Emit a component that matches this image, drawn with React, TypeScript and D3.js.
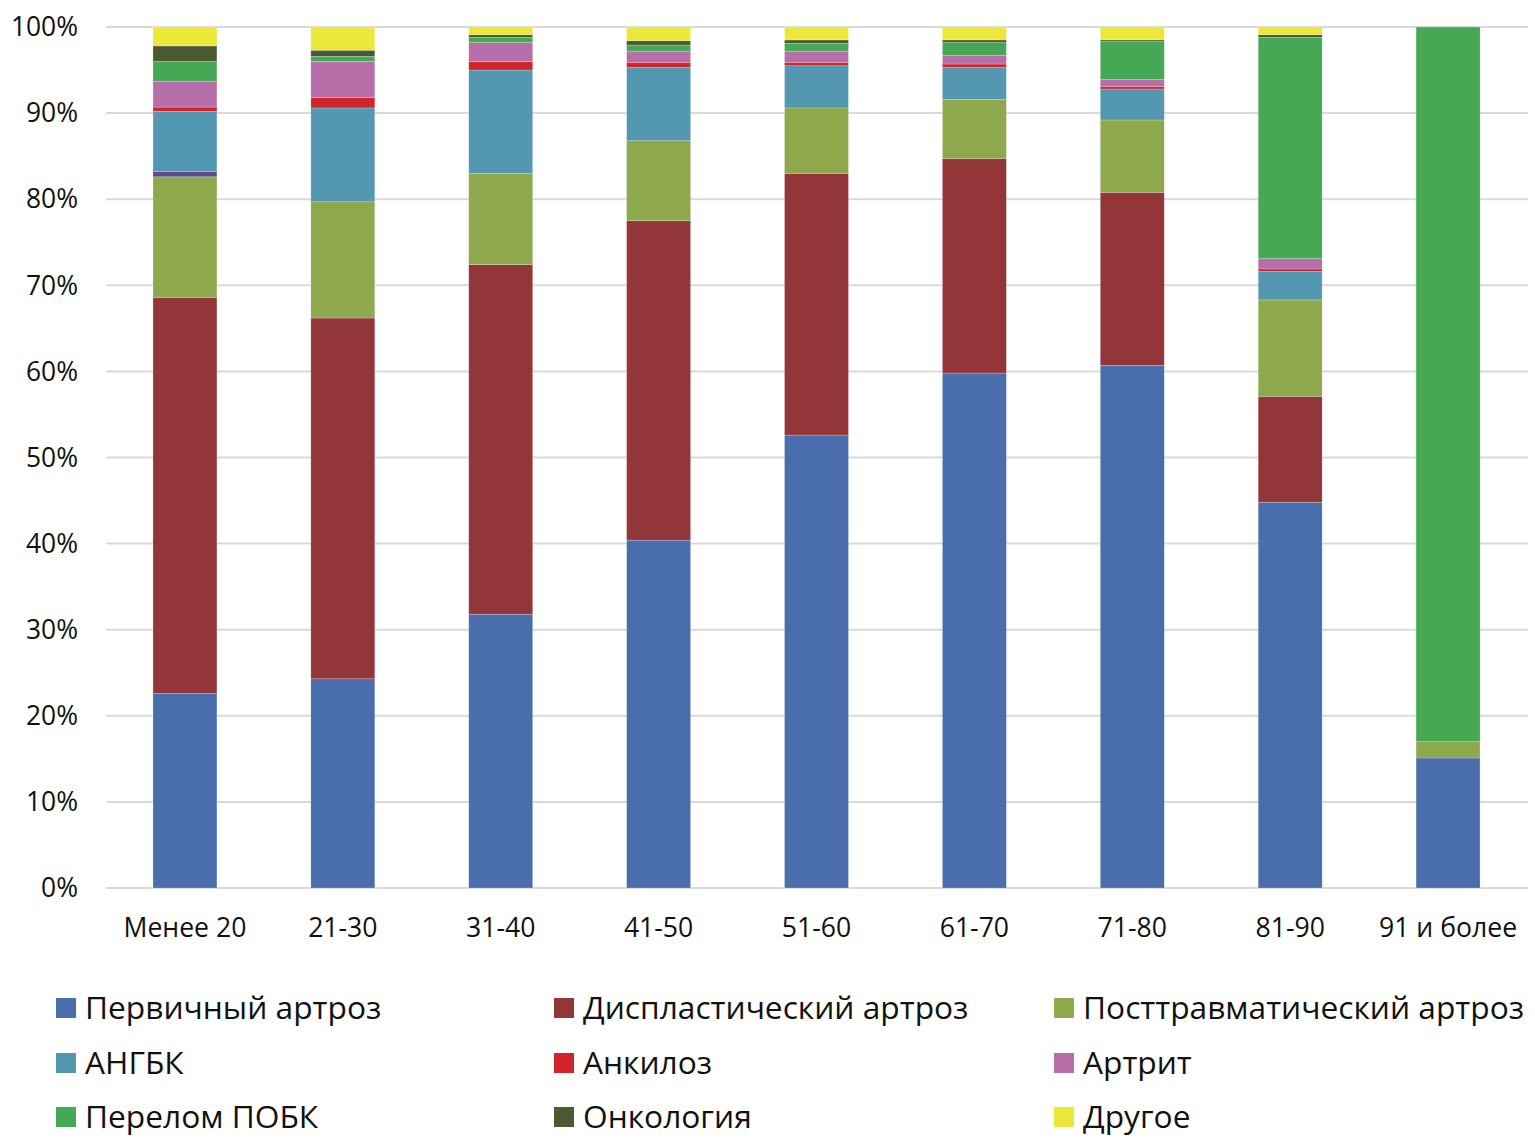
import React from 'react';
import * as d3 from 'd3';

const categories = ['Менее 20', '21-30', '31-40', '41-50', '51-60', '61-70', '71-80', '81-90', '91 и более'];

const seriesNames = [
  'Первичный артроз',
  'Диспластический артроз',
  'Посттравматический артроз',
  'Прочее',
  'АНГБК',
  'Анкилоз',
  'Артрит',
  'Перелом ПОБК',
  'Онкология',
  'Другое',
];

// values in % per category, same order as categories
const primary = [22.6, 24.3, 31.8, 40.4, 52.6, 59.8, 60.7, 44.8, 15.1];
const dysplastic = [46.0, 41.9, 40.6, 37.1, 30.4, 24.9, 20.1, 12.3, 0];
const posttraumatic = [14.0, 13.5, 10.6, 9.3, 7.6, 6.9, 8.4, 11.2, 1.9];
const misc = [0.6, 0, 0, 0, 0, 0, 0, 0, 0];
const angbk = [7.0, 10.9, 12.0, 8.5, 4.9, 3.7, 3.6, 3.3, 0];
const ankylosis = [0.5, 1.2, 1.0, 0.6, 0.4, 0.4, 0.3, 0.3, 0];
const arthritis = [3.0, 4.2, 2.2, 1.3, 1.3, 1.0, 0.8, 1.2, 0];
const fracture = [2.3, 0.6, 0.6, 0.7, 0.9, 1.5, 4.4, 25.7, 83.0];
const oncology = [1.8, 0.7, 0.3, 0.5, 0.4, 0.3, 0.2, 0.3, 0];
const other = [2.2, 2.7, 0.9, 1.6, 1.5, 1.5, 1.5, 0.9, 0];

const seriesValues = [primary, dysplastic, posttraumatic, misc, angbk, ankylosis, arthritis, fracture, oncology, other];

const colors = ['#4a6eab', '#93363a', '#8ea84c', '#5f4b8b', '#5397b0', '#d0262b', '#b66fa8', '#45a854', '#4b5a33', '#ebe83a'];

// legend entries (the thin purple strip has no legend entry)
const legendOrder = [0, 1, 2, 4, 5, 6, 7, 8, 9];

const yTicks = [0, 10, 20, 30, 40, 50, 60, 70, 80, 90, 100];

const W = 1535;
const H = 1146;
const font = '"Open Sans", Lato, sans-serif';

export default function App() {
  const x = d3.scaleBand<string>()
    .domain(categories)
    .range([106, 1527])
    .paddingInner(0.595)
    .paddingOuter(0.2975);

  const y = d3.scaleLinear().domain([0, 100]).range([888, 27]);

  const rows = categories.map((c, i) => {
    const r: any = { cat: c };
    seriesNames.forEach((s, k) => { r[s] = seriesValues[k][i]; });
    return r;
  });

  const stacked = d3.stack<any>().keys(seriesNames)(rows);

  return (
    <svg width={W} height={H} style={{ position: 'absolute', left: 0, top: 0, background: '#fff' }} fontFamily={font}>
      {yTicks.map(t => (
        <g key={t}>
          <line x1={106} x2={1528} y1={y(t)} y2={y(t)} stroke="#d9d9d9" strokeWidth={2} />
          <text x={78} y={y(t)} dy="0.35em" textAnchor="end" fontSize={26.4} fill="#111">{t}%</text>
        </g>
      ))}
      {stacked.map((layer, k) => (
        <g key={layer.key} fill={colors[k]}>
          {layer.map((d, i) => {
            const h = y(d[0]) - y(d[1]);
            if (h <= 0) return null;
            return (
              <rect key={i} x={x(categories[i])} y={y(d[1])} width={x.bandwidth()} height={h}
                stroke="#ffffff" strokeOpacity={0.35} strokeWidth={0.6} />
            );
          })}
        </g>
      ))}
      {categories.map(c => (
        <text key={c} x={(x(c) as number) + x.bandwidth() / 2} y={928} dy="0.35em" textAnchor="middle" fontSize={26.6} fill="#111">{c}</text>
      ))}
      {legendOrder.map((k, j) => {
        const col = j % 3;
        const row = Math.floor(j / 3);
        const lx = [56, 554, 1054][col];
        const ly = [1008, 1063, 1117][row];
        return (
          <g key={k}>
            <rect x={lx} y={ly - 10} width={20} height={20} fill={colors[k]} />
            <text x={lx + 29} y={ly} dy="0.35em" fontSize={31.7} fill="#111">{seriesNames[k]}</text>
          </g>
        );
      })}
    </svg>
  );
}
